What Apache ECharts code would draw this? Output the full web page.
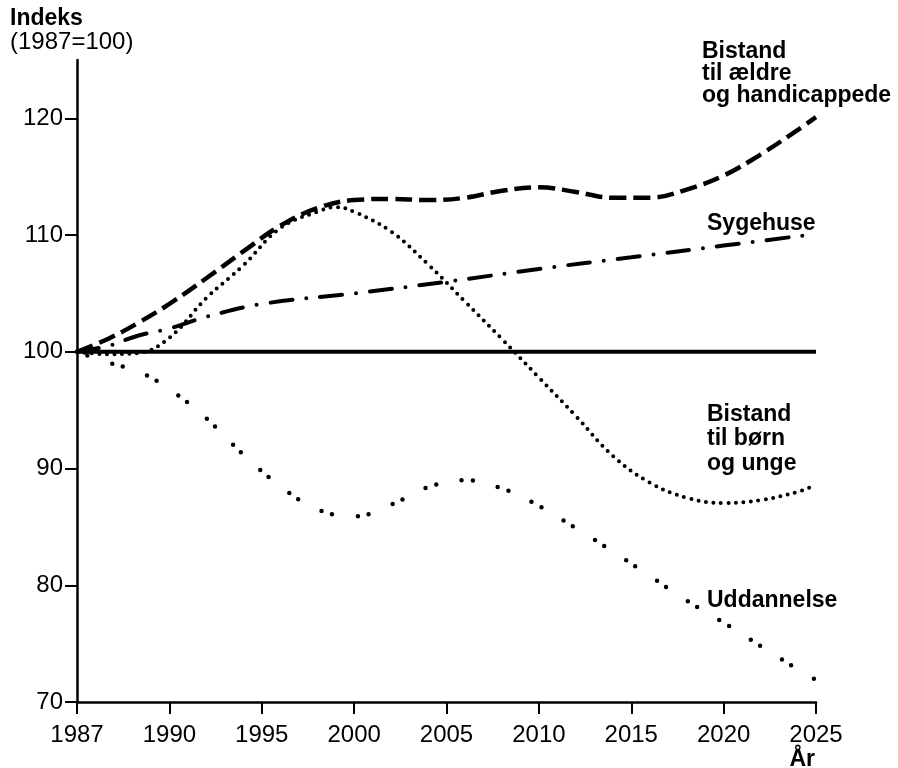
<!DOCTYPE html>
<html>
<head>
<meta charset="utf-8">
<script src="https://cdn.jsdelivr.net/npm/echarts@6/dist/echarts.min.js"></script>
<style>
  html, body { margin: 0; padding: 0; background: #fff; }
  #chart { width: 898px; height: 768px; }
</style>
</head>
<body>
<div id="chart"></div>
<script>
// x-aksen: første mærke står for 1987, derefter 5-års trin
const tickYears = [1985, 1990, 1995, 2000, 2005, 2010, 2015, 2020, 2025];
const tickLabels = ['1987', '1990', '1995', '2000', '2005', '2010', '2015', '2020', '2025'];
const yTicks = [70, 80, 90, 100, 110, 120];

const baseYears = [1987, 2025];
const baseValues = [100, 100];

const eldreYears = [1987, 1988, 1989, 1990, 1992, 1994, 1996, 1998, 2000, 2002, 2004, 2006, 2008, 2010, 2012, 2014, 2016, 2018, 2020, 2022, 2024, 2025];
const eldreValues = [100, 101.1, 102.5, 104.1, 106.3, 108.6, 110.8, 112.3, 113.0, 113.1, 113.0, 113.2, 113.8, 114.1, 113.7, 113.2, 113.2, 113.9, 115.1, 116.9, 119.0, 120.1];

const sygehusYears = [1987, 1988, 1989, 1990, 1992, 1995, 2000, 2005, 2010, 2015, 2020, 2025];
const sygehusValues = [100, 100.5, 101.4, 102.0, 103.0, 104.1, 105.0, 106.0, 107.1, 108.1, 109.1, 110.1];

const bornYears = [1987, 1988, 1989, 1990, 1992, 1994, 1996, 1998, 1999, 2000, 2002, 2004, 2006, 2008, 2010, 2012, 2014, 2016, 2018, 2020, 2022, 2024, 2025];
const bornValues = [100, 99.8, 99.9, 101.2, 104.6, 107.4, 110.6, 112.0, 112.4, 112.0, 110.3, 107.5, 104.3, 101.1, 97.8, 94.5, 91.1, 88.8, 87.5, 87.05, 87.3, 88.0, 88.6];

const uddYears = [1987, 1988, 1989, 1990, 1992, 1994, 1996, 1998, 2000, 2002, 2004, 2006, 2008, 2010, 2012, 2014, 2016, 2018, 2020, 2022, 2024, 2025];
const uddValues = [100, 99.1, 98.3, 96.8, 94.3, 91.2, 88.5, 86.5, 85.9, 86.9, 88.4, 89.0, 88.3, 86.8, 84.9, 82.9, 80.8, 78.7, 76.8, 74.8, 72.8, 71.9];

// 1987-1990 fylder et helt 5-års felt på aksen
function toAxis(year) {
  return year < 1990 ? 1985 + (year - 1987) * 5 / 3 : year;
}
function pairs(years, values) {
  return years.map((y, i) => [toAxis(y), values[i]]);
}
function line(name, years, values, style) {
  return {
    name: name,
    type: 'line',
    data: pairs(years, values),
    showSymbol: false,
    smooth: 0.4,
    silent: true,
    lineStyle: Object.assign({ color: '#000' }, style)
  };
}

const font = '"Liberation Sans", Arial, sans-serif';
function label(text, x, y, opts) {
  return {
    type: 'text',
    x: x,
    y: y,
    silent: true,
    style: Object.assign({
      text: text,
      fill: '#000',
      fontFamily: font,
      fontSize: 23,
      fontWeight: 'bold',
      align: 'left',
      verticalAlign: 'middle'
    }, opts || {})
  };
}

const chart = echarts.init(document.getElementById('chart'));
chart.setOption({
  animation: false,
  backgroundColor: '#fff',
  grid: { left: 77, right: 82, top: 60, bottom: 66 },
  xAxis: {
    type: 'value',
    min: 1985,
    max: 2025,
    interval: 5,
    splitLine: { show: false },
    axisLine: { show: true, lineStyle: { color: '#000', width: 2.5 } },
    axisTick: { show: true, length: 12, lineStyle: { color: '#000', width: 2 } },
    axisLabel: {
      color: '#000',
      fontFamily: font,
      fontSize: 24,
      margin: 21,
      formatter: v => tickLabels[tickYears.indexOf(v)] || ''
    }
  },
  yAxis: {
    type: 'value',
    min: 70,
    max: 125,
    splitLine: { show: false },
    axisLine: { show: true, lineStyle: { color: '#000', width: 2.5 } },
    axisTick: { show: true, length: 12, customValues: yTicks, lineStyle: { color: '#000', width: 2 } },
    axisLabel: {
      color: '#000',
      fontFamily: font,
      fontSize: 24,
      margin: 14,
      customValues: yTicks
    }
  },
  series: [
    line('Basis', baseYears, baseValues, { width: 4 }),
    line('Bistand til ældre og handicappede', eldreYears, eldreValues, { width: 4.5, type: [17, 7] }),
    line('Sygehuse', sygehusYears, sygehusValues, { width: 4, type: [22, 14, 0, 14], cap: 'round' }),
    line('Bistand til børn og unge', bornYears, bornValues, { width: 4, type: [0, 7.5], cap: 'round' }),
    line('Uddannelse', uddYears, uddValues, { width: 4.5, type: [0, 11, 0, 26], cap: 'round' })
  ],
  graphic: [
    label('Indeks', 10, 19, { fontSize: 23 }),
    label('(1987=100)', 10, 42, { fontSize: 24, fontWeight: 'normal' }),
    label('Bistand', 702, 52),
    label('til ældre', 702, 74),
    label('og handicappede', 702, 96),
    label('Sygehuse', 707, 224),
    label('Bistand', 707, 415),
    label('til børn', 707, 439),
    label('og unge', 707, 464),
    label('Uddannelse', 707, 601),
    label('År', 815, 760, { align: 'right' })
  ]
});
</script>
</body>
</html>
